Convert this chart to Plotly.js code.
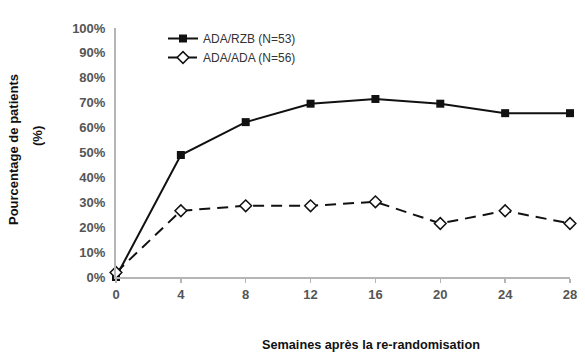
<!DOCTYPE html>
<html>
<head>
<meta charset="utf-8">
<script src="https://cdn.plot.ly/plotly-3.0.1.min.js"></script>
<style>html,body{margin:0;padding:0;background:#fff;}#chart{width:585px;height:357px;}</style>
</head>
<body>
<div id="chart"></div>
<script>
const weeks = [0, 4, 8, 12, 16, 20, 24, 28];
const adaRzb = [0, 49, 62.2, 69.6, 71.5, 69.6, 65.8, 65.8];
const adaAda = [1.8, 26.6, 28.6, 28.6, 30.2, 21.5, 26.6, 21.5];
const seriesNames = ["ADA/RZB (N=53)", "ADA/ADA (N=56)"];
const yTitleLines = ["Pourcentage de patients", "(%)"];
const xTitle = "Semaines après la re-randomisation";

const FONT = "Liberation Sans, Arial, sans-serif";
const L = 116, R = 15, T = 28, B = 80;
const W = 585 - L - R, H = 357 - T - B;
const px = p => (p - L) / W;
const py = p => (357 - B - p) / H;

const traces = [
  {
    x: weeks, y: adaRzb, name: seriesNames[0], type: "scatter", mode: "lines+markers",
    line: {color: "#111", width: 2},
    marker: {symbol: "square", size: 8, color: "#111"},
    cliponaxis: false
  },
  {
    x: weeks, y: adaAda, name: seriesNames[1], type: "scatter", mode: "lines+markers",
    line: {color: "#111", width: 2, dash: "11px,7px"},
    marker: {symbol: "diamond", size: 9, color: "#fff", line: {color: "#111", width: 1.5}},
    cliponaxis: false
  }
];

const layout = {
  width: 585, height: 357,
  margin: {l: L, r: R, t: T, b: B, pad: 0},
  paper_bgcolor: "#fff", plot_bgcolor: "#fff",
  showlegend: true,
  legend: {
    x: px(163), y: py(24), xanchor: "left", yanchor: "top",
    bgcolor: "rgba(0,0,0,0)", borderwidth: 0,
    font: {family: FONT, size: 12, color: "#333"}
  },
  xaxis: {
    range: [0, 28], tickvals: weeks, ticktext: weeks.map(String),
    showgrid: false, zeroline: false,
    showline: true, linecolor: "#b5b5b5", linewidth: 2,
    ticks: "outside", ticklen: 4, tickwidth: 1.5, tickcolor: "#b5b5b5",
    tickfont: {family: FONT, size: 13, color: "#555", weight: "bold"},
    fixedrange: true
  },
  yaxis: {
    range: [0, 100], dtick: 10, ticksuffix: "%",
    showgrid: false, zeroline: false,
    showline: true, linecolor: "#b5b5b5", linewidth: 2,
    ticks: "", ticklabelstandoff: 6,
    tickfont: {family: FONT, size: 13, color: "#555", weight: "bold"},
    fixedrange: true
  },
  annotations: [
    {text: yTitleLines[0], xref: "paper", yref: "paper", x: px(13), y: py(150),
     textangle: -90, showarrow: false, xanchor: "center", yanchor: "middle",
     font: {family: FONT, size: 13, color: "#111", weight: "bold"}},
    {text: yTitleLines[1], xref: "paper", yref: "paper", x: px(37), y: py(136),
     textangle: -90, showarrow: false, xanchor: "center", yanchor: "middle",
     font: {family: FONT, size: 13, color: "#111", weight: "bold"}},
    {text: xTitle, xref: "paper", yref: "paper", x: px(371), y: py(345),
     showarrow: false, xanchor: "center", yanchor: "middle",
     font: {family: FONT, size: 12.7, color: "#111", weight: "bold"}}
  ]
};

Plotly.newPlot("chart", traces, layout, {displayModeBar: false, staticPlot: true});
</script>
</body>
</html>
